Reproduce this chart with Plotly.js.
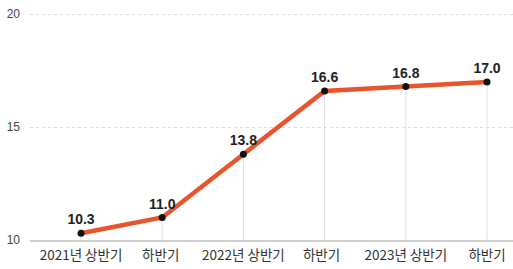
<!DOCTYPE html>
<html><head><meta charset="utf-8">
<script src="https://cdn.plot.ly/plotly-3.0.1.min.js"></script>
<style>html,body{margin:0;padding:0;background:#fff}#c{width:513px;height:269px}</style>
</head><body><div id="c"></div>
<script>
var categories = ['2021년 상반기', '하반기 ', '2022년 상반기', '하반기  ', '2023년 상반기', '하반기'];
var values = [10.3, 11.0, 13.8, 16.6, 16.8, 17.0];
var labels = ['10.3', '11.0', '13.8', '16.6', '16.8', '17.0'];
var yTicks = [10, 15, 20];

var shapes = categories.map(function(c, i){
  return {type:'line', xref:'x', yref:'y', x0:c, x1:c, y0:10, y1:values[i],
    line:{color:'#e2e2e2', width:1}, layer:'below'};
});

var trace = {
  x: categories, y: values, mode:'lines+markers+text', type:'scatter',
  line:{color:'#e8542c', width:4.5},
  marker:{color:'#111', size:7},
  text: labels, textposition:'top center',
  textfont:{family:'Liberation Sans, Arial', size:14, color:'#222', weight:'bold'},
  cliponaxis:false, hoverinfo:'none'
};

var layout = {
  width:513, height:269,
  margin:{l:30, r:0, t:13, b:29},
  paper_bgcolor:'#fff', plot_bgcolor:'#fff',
  showlegend:false,
  shapes: shapes,
  xaxis:{type:'category', range:[-0.628, 5.32], showgrid:false, zeroline:false,
    showline:true, linecolor:'#cfcfcf', linewidth:1.5, ticks:'', ticklabelstandoff:2,
    tickfont:{family:'Noto Sans CJK KR', size:13.5, color:'#333'}, fixedrange:true},
  yaxis:{range:[10,20.05], tickvals:yTicks, ticktext:yTicks.map(String),
    showgrid:true, gridcolor:'#dcdcdc', griddash:'dot', gridwidth:1,
    zeroline:false, showline:false, ticks:'', ticklabelstandoff:9,
    tickfont:{family:'Liberation Sans, Arial', size:12, color:'#444444'}, fixedrange:true}
};
Plotly.newPlot('c', [trace], layout, {staticPlot:true, displayModeBar:false});
</script></body></html>
